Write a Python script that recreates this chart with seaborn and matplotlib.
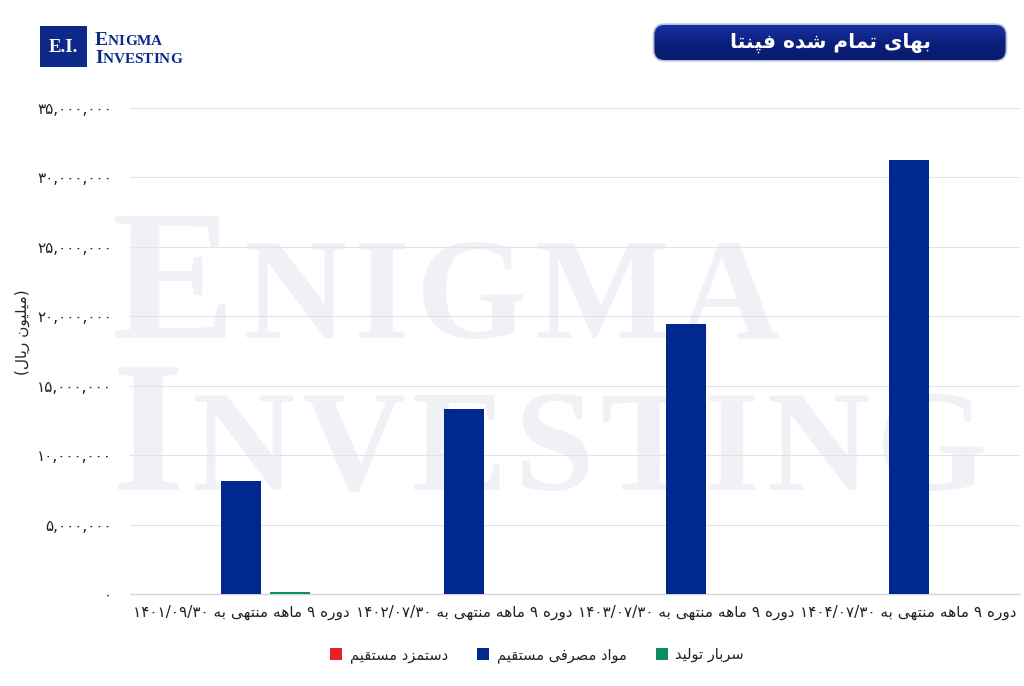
import numpy as np
import pandas as pd
import matplotlib
matplotlib.use("Agg")
import matplotlib.pyplot as plt
import seaborn as sns
from matplotlib.patches import FancyBboxPatch, Rectangle, Patch
from matplotlib.ticker import FuncFormatter, MultipleLocator
from matplotlib.colors import LinearSegmentedColormap

# ---------------- data ----------------
periods = [
    "دوره ۹ ماهه منتهی به ۱۴۰۱/۰۹/۳۰",
    "دوره ۹ ماهه منتهی به ۱۴۰۲/۰۷/۳۰",
    "دوره ۹ ماهه منتهی به ۱۴۰۳/۰۷/۳۰",
    "دوره ۹ ماهه منتهی به ۱۴۰۴/۰۷/۳۰",
]
series_names = ["دستمزد مستقیم", "مواد مصرفی مستقیم", "سربار تولید"]
direct_wage = [0, 0, 0, 0]
direct_material = [8150000, 13320000, 19440000, 31250000]
overhead = [120000, 0, 0, 0]
series_colors = ["#E8202A", "#00288E", "#0B8E63"]
title_text = "بهای تمام شده فپنتا"
ylabel_text = "(میلیون ریال)"

# ---------------- minimal Persian shaping ----------------
FORMS = {  # iso, fin, init, med
    'ا': ('\uFE8D', '\uFE8E', None, None),
    'ب': ('\uFE8F', '\uFE90', '\uFE91', '\uFE92'),
    'پ': ('\uFB56', '\uFB57', '\uFB58', '\uFB59'),
    'ت': ('\uFE95', '\uFE96', '\uFE97', '\uFE98'),
    'د': ('\uFEA9', '\uFEAA', None, None),
    'ر': ('\uFEAD', '\uFEAE', None, None),
    'ز': ('\uFEAF', '\uFEB0', None, None),
    'س': ('\uFEB1', '\uFEB2', '\uFEB3', '\uFEB4'),
    'ش': ('\uFEB5', '\uFEB6', '\uFEB7', '\uFEB8'),
    'ص': ('\uFEB9', '\uFEBA', '\uFEBB', '\uFEBC'),
    'ف': ('\uFED1', '\uFED2', '\uFED3', '\uFED4'),
    'ق': ('\uFED5', '\uFED6', '\uFED7', '\uFED8'),
    'ل': ('\uFEDD', '\uFEDE', '\uFEDF', '\uFEE0'),
    'م': ('\uFEE1', '\uFEE2', '\uFEE3', '\uFEE4'),
    'ن': ('\uFEE5', '\uFEE6', '\uFEE7', '\uFEE8'),
    'ه': ('\uFEE9', '\uFEEA', '\uFEEB', '\uFEEC'),
    'و': ('\uFEED', '\uFEEE', None, None),
    'ی': ('\uFBFC', '\uFBFD', '\uFBFE', '\uFBFF'),
}


def shape_word(w):
    out = []
    for i, c in enumerate(w):
        if c not in FORMS:
            out.append(c)
            continue
        prev = w[i - 1] if i > 0 else None
        nxt = w[i + 1] if i + 1 < len(w) else None
        jp = prev in FORMS and FORMS[prev][2] is not None
        jn = nxt in FORMS and FORMS[c][2] is not None
        iso, fin, ini, med = FORMS[c]
        if jp and jn:
            out.append(med)
        elif jp:
            out.append(fin)
        elif jn:
            out.append(ini)
        else:
            out.append(iso)
    return "".join(out)


MIRROR = {'(': ')', ')': '('}


def fa(text):
    words = text.split(" ")
    vis = []
    for w in reversed(words):
        if any(ch in FORMS for ch in w):
            s = shape_word(w)[::-1]
            s = "".join(MIRROR.get(ch, ch) for ch in s)
            vis.append(s)
        else:
            vis.append(w)
    return " ".join(vis)


FA_DIGITS = str.maketrans("0123456789", "۰۱۲۳۴۵۶۷۸۹")

# ---------------- figure ----------------
sns.set_theme(style="white")
plt.rcParams['font.family'] = ['DejaVu Sans']

W, H = 1024, 686
fig = plt.figure(figsize=(W / 100, H / 100), dpi=100)
fig.patch.set_facecolor("white")


def fx(px):
    return px / W


def fy(py):
    return 1 - py / H


renderer = fig.canvas.get_renderer()


def smallcaps(word, x_px, y_px, big, small, color, weight, z, track=0.0,
              family="Liberation Serif"):
    x = x_px
    for i, ch in enumerate(word):
        t = fig.text(fx(x), fy(y_px), ch, fontsize=big if i == 0 else small,
                     family=family, weight=weight, color=color, ha="left",
                     va="baseline", zorder=z)
        bb = t.get_window_extent(renderer)
        x += bb.width + track
    return x


# watermark
WM = "#eff1f7"
smallcaps("ENIGMA", 112, 338, 134, 103, WM, "bold", -5, track=7)
smallcaps("INVESTING", 112, 490, 134, 103, WM, "bold", -5, track=7)

# axes
ax = fig.add_axes([fx(130), fy(594), fx(1020) - fx(130), fy(108) - fy(594)])
ax.set_facecolor("none")

df = pd.DataFrame({
    "period": periods * 3,
    "item": [series_names[0]] * 4 + [series_names[1]] * 4 + [series_names[2]] * 4,
    "value": direct_wage + direct_material + overhead,
})
palette = dict(zip(series_names, series_colors))
sns.barplot(data=df, x="period", y="value", hue="item", hue_order=series_names,
            palette=palette, width=0.66, gap=0.18, linewidth=0, saturation=1,
            legend=False, ax=ax, zorder=3)

ax.set_xlim(-0.5, 3.5)
ax.set_ylim(0, 35000000)
ax.yaxis.set_major_locator(MultipleLocator(5000000))
ax.yaxis.set_major_formatter(FuncFormatter(lambda v, p: f"{int(v):,}".translate(FA_DIGITS)))
ax.grid(axis="y", color="#e3e3e3", linewidth=0.8, zorder=0)
ax.set_axisbelow(True)
for s in ["left", "right", "top"]:
    ax.spines[s].set_visible(False)
ax.spines["bottom"].set_color("#d6d6d6")
ax.spines["bottom"].set_linewidth(1.0)
ax.tick_params(axis="y", length=0, pad=13, labelsize=11, labelcolor="#222222")
ax.tick_params(axis="x", length=0, pad=8, labelsize=11, labelcolor="#222222")
ax.set_xticks(range(len(periods)))
ax.set_xticklabels([fa(p) for p in periods])
ax.set_xlabel("")
ax.set_ylabel(fa(ylabel_text), fontsize=11, color="#222222")
ax.yaxis.set_label_coords((30 - 130) / 890, (594 - 332) / 486)

# legend
handles = [Patch(facecolor=c, edgecolor="none") for c in series_colors]
fig.legend(handles, [fa(n) for n in series_names], loc="center",
           bbox_to_anchor=(fx(537), fy(655)), ncol=3, frameon=False,
           fontsize=10.5, handlelength=0.85, handleheight=0.85, handletextpad=0.5,
           columnspacing=2.0, labelcolor="#222222")

# title box
x0, y0, x1, y1 = 650, 23, 1010, 62
box_ax = fig.add_axes([fx(x0), fy(y1), fx(x1) - fx(x0), fy(y0) - fy(y1)])
box_ax.set_axis_off()
box_ax.set_xlim(0, 1)
box_ax.set_ylim(0, 1)
grad = np.linspace(0, 1, 100).reshape(-1, 1)
cmap = LinearSegmentedColormap.from_list("g", ["#1a34a8", "#0b1f7c", "#0a1a6a"])
im = box_ax.imshow(grad, extent=[0, 1, 0, 1], aspect="auto", cmap=cmap, origin="upper")
patch = FancyBboxPatch((0.01, 0.03), 0.98, 0.94, boxstyle="round,pad=0,rounding_size=0.03",
                       mutation_aspect=9.2, transform=box_ax.transAxes,
                       facecolor="none", edgecolor="#b8c0dc", linewidth=1.2)
box_ax.add_patch(patch)
im.set_clip_path(patch)
box_ax.text(0.5, 0.5, fa(title_text), color="white", fontsize=14.5, weight="bold",
            ha="center", va="center")

# logo
fig.patches.append(Rectangle((fx(40), fy(67)), fx(87) - fx(40), fy(26) - fy(67),
                             transform=fig.transFigure, facecolor="#0d2a8a",
                             edgecolor="none"))
fig.text(fx(63.5), fy(47.5), "E.I.", color="white", fontsize=13.5, weight="bold",
         family="Liberation Serif", ha="center", va="center")
smallcaps("ENIGMA", 95, 45, 14, 11, "#0d2a8a", "bold", 5)
smallcaps("INVESTING", 95, 63, 14, 11, "#0d2a8a", "bold", 5)

fig.savefig("out.png", dpi=100)
